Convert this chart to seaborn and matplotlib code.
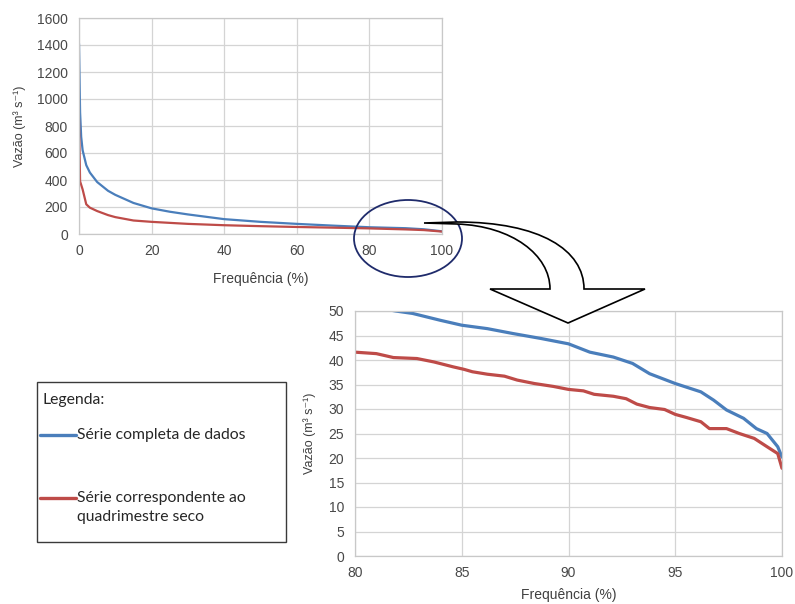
import matplotlib
matplotlib.use("Agg")
import matplotlib.pyplot as plt
import matplotlib.patches as mpatches
from matplotlib.path import Path
from matplotlib.transforms import Affine2D
import pandas as pd
import seaborn as sns

# Curva de permanência - série completa (visão geral)
freq_full = [0, 0.3, 0.6, 1, 2, 3, 5, 8, 10, 15, 20, 25, 30, 40, 50, 60, 70, 80, 90, 95, 100]
vazao_full = [1410, 900, 720, 620, 510, 455, 385, 320, 290, 230, 190, 165, 145, 110, 90, 75, 62, 50, 43, 35, 20]

# Curva de permanência - quadrimestre seco (visão geral)
freq_seco = [0, 0.3, 1, 2, 3, 5, 8, 10, 15, 20, 30, 40, 50, 60, 70, 80, 90, 95, 100]
vazao_seco = [850, 390, 330, 220, 195, 170, 140, 125, 100, 90, 75, 65, 58, 52, 47, 41.5, 34, 29, 18]

# Detalhe 80-100 %
freq_det_full = [80, 81.9, 82.7, 84, 85, 86.2, 87.4, 88.7, 90, 91, 92.1, 93, 93.8, 95, 96.2,
                 96.8, 97.4, 98.2, 98.8, 99.3, 99.8, 100]
vazao_det_full = [51.5, 50, 49.5, 48.1, 47.1, 46.4, 45.4, 44.4, 43.3, 41.6, 40.6, 39.3, 37.2,
                  35.2, 33.5, 31.8, 29.8, 28.1, 26, 25, 22.3, 20.2]
freq_det_seco = [80, 81, 81.8, 82.9, 83.7, 84.6, 85.1, 85.5, 86.2, 87, 87.6, 88.4, 89.3, 90,
                 90.7, 91.2, 92.1, 92.7, 93.2, 93.8, 94.5, 95, 95.5, 96.2, 96.6, 97.4, 98,
                 98.7, 99.3, 99.8, 100]
vazao_det_seco = [41.6, 41.3, 40.5, 40.3, 39.6, 38.6, 38.1, 37.6, 37.1, 36.7, 35.9, 35.2, 34.6,
                  34, 33.7, 33, 32.6, 32.1, 31, 30.3, 29.9, 28.9, 28.3, 27.4, 26, 26, 25, 24,
                  22.3, 20.9, 17.9]

BLUE = "#4a7ebb"
RED = "#be4b48"
W, H = 795, 604

sns.set_theme(style="whitegrid")
plt.rcParams["font.family"] = ["Liberation Sans", "DejaVu Sans"]

fig = plt.figure(figsize=(W / 100, H / 100), dpi=100)
fig.patch.set_facecolor("white")


def px_axes(left, top, right, bottom):
    return fig.add_axes([left / W, 1 - bottom / H, (right - left) / W, (bottom - top) / H])


def style_axes(ax):
    ax.set_facecolor("white")
    ax.grid(True, color="#d4d4d4", linewidth=0.9)
    for s in ax.spines.values():
        s.set_color("#c8c8c8")
        s.set_linewidth(0.9)
    ax.tick_params(length=0, labelsize=10, labelcolor="#484848")
    ax.tick_params(axis="y", pad=8)
    ax.tick_params(axis="x", pad=7)


# painel superior
ax1 = px_axes(79, 18, 442, 234)
df_full = pd.DataFrame({"freq": freq_full, "vazao": vazao_full})
df_seco = pd.DataFrame({"freq": freq_seco, "vazao": vazao_seco})
sns.lineplot(data=df_full, x="freq", y="vazao", color=BLUE, linewidth=1.6, ax=ax1, sort=False)
sns.lineplot(data=df_seco, x="freq", y="vazao", color=RED, linewidth=1.6, ax=ax1, sort=False)
ax1.set_xlim(0, 100)
ax1.set_ylim(0, 1600)
ax1.set_xticks(range(0, 101, 20))
ax1.set_yticks(range(0, 1601, 200))
style_axes(ax1)
ax1.set_xlabel("Frequência (%)", fontsize=10, color="#404040", labelpad=10)
ax1.set_ylabel("Vazão (m³ s⁻¹)", fontsize=9, color="#404040", labelpad=8)

# painel inferior (detalhe)
ax2 = px_axes(355, 311, 782, 556)
df_dfull = pd.DataFrame({"freq": freq_det_full, "vazao": vazao_det_full})
df_dseco = pd.DataFrame({"freq": freq_det_seco, "vazao": vazao_det_seco})
sns.lineplot(data=df_dfull, x="freq", y="vazao", color=BLUE, linewidth=2.3, ax=ax2, sort=False)
sns.lineplot(data=df_dseco, x="freq", y="vazao", color=RED, linewidth=2.3, ax=ax2, sort=False)
ax2.set_xlim(80, 100)
ax2.set_ylim(0, 50)
ax2.set_xticks(range(80, 101, 5))
ax2.set_yticks(range(0, 51, 5))
style_axes(ax2)
ax2.set_xlabel("Frequência (%)", fontsize=10, color="#404040", labelpad=6)
ax2.set_ylabel("Vazão (m³ s⁻¹)", fontsize=9, color="#404040", labelpad=9)

# transformação em pixels da figura
pxT = Affine2D().scale(1 / W, -1 / H).translate(0, 1) + fig.transFigure

# elipse de destaque
ell = mpatches.Ellipse((408, 238.5), 108, 77, transform=pxT, fill=False,
                       edgecolor="#1f2b6b", linewidth=1.3, zorder=5)
fig.patches.append(ell)

# seta curva
verts = [(424, 223), (457, 222),
         (540, 222), (584, 250), (584, 289),
         (645, 289), (568, 323), (490, 289), (550, 289),
         (550, 255), (512, 226), (457, 224),
         (424, 223), (424, 223)]
codes = [Path.MOVETO, Path.LINETO,
         Path.CURVE4, Path.CURVE4, Path.CURVE4,
         Path.LINETO, Path.LINETO, Path.LINETO, Path.LINETO,
         Path.CURVE4, Path.CURVE4, Path.CURVE4,
         Path.LINETO, Path.CLOSEPOLY]
arrow = mpatches.PathPatch(Path(verts, codes), transform=pxT, facecolor="white",
                           edgecolor="black", linewidth=1.2, zorder=6)
fig.patches.append(arrow)

# caixa de legenda
box = mpatches.Rectangle((37, 382), 249, 160, transform=pxT, fill=False,
                         edgecolor="#3a3a3a", linewidth=1.0, zorder=5)
fig.patches.append(box)
leg_font = ["Lato", "DejaVu Sans"]
leg_size = 11.3
fig.text(43 / W, 1 - 400 / H, "Legenda:", family=leg_font, fontsize=leg_size,
         color="#262626", va="center", ha="left")
fig.lines.append(plt.Line2D([40, 76], [435, 435], transform=pxT, color=BLUE, linewidth=2.4))
fig.text(77 / W, 1 - 435 / H, "Série completa de dados", family=leg_font, fontsize=leg_size,
         color="#262626", va="center", ha="left")
fig.lines.append(plt.Line2D([40, 76], [498, 498], transform=pxT, color=RED, linewidth=2.4))
fig.text(77 / W, 1 - 498 / H, "Série correspondente ao", family=leg_font, fontsize=leg_size,
         color="#262626", va="center", ha="left")
fig.text(77 / W, 1 - 517 / H, "quadrimestre seco", family=leg_font, fontsize=leg_size,
         color="#262626", va="center", ha="left")

fig.savefig("out.png", dpi=100, facecolor="white")
